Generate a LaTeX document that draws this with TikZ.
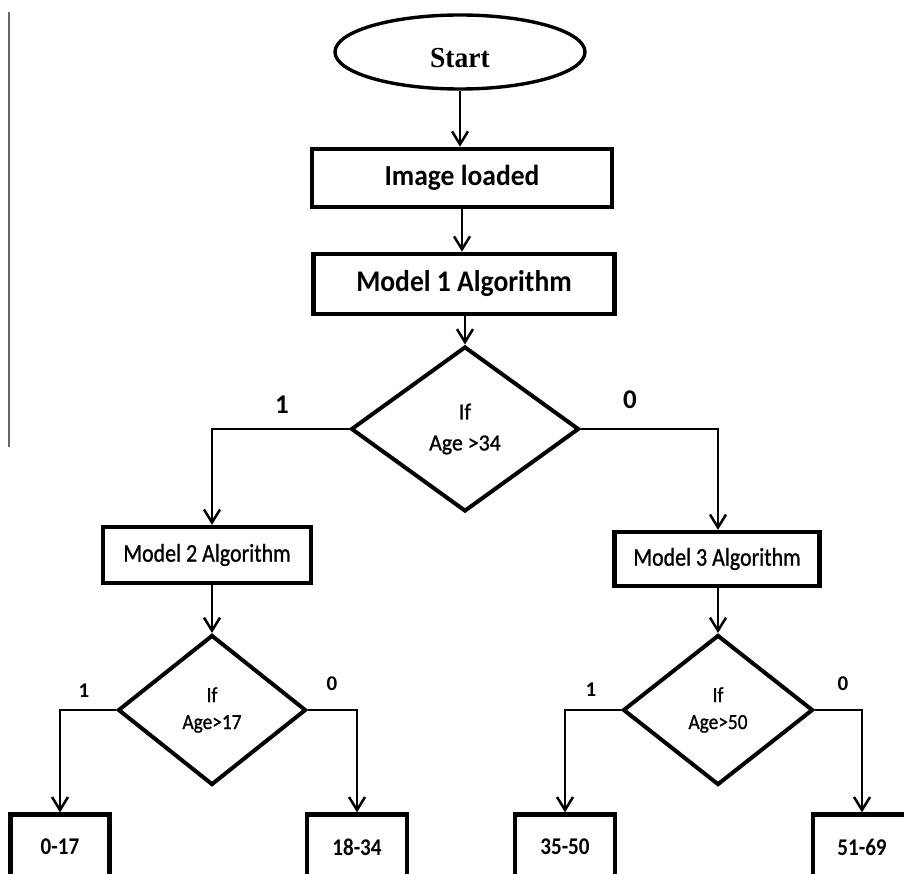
\documentclass[tikz,border=0pt]{standalone}
\usepackage{fontspec}
\setmainfont{Carlito}
\newfontfamily\timesfont{Liberation Serif}
\newfontfamily\medfont[FakeBold=1]{Carlito}
\usepackage{graphicx}
\usetikzlibrary{shapes.geometric,arrows.meta,calc}
\newcommand{\sqz}[2]{\scalebox{#1}[1]{#2}}
\begin{document}
\begin{tikzpicture}[x=1pt,y=-1pt,
  conn/.style={line width=2.5pt,-{Straight Barb[length=13pt,width=16pt]}},
  boxnode/.style={draw,rectangle,line width=4.6pt,inner sep=0pt},
  decision/.style={draw,diamond,line width=4pt,inner sep=0pt,align=center},
  bigtxt/.style={font=\fontsize{29}{31}\selectfont\bfseries},
  midtxt/.style={font=\fontsize{25.5}{27}\selectfont\medfont},
  smalltxt/.style={font=\fontsize{24}{25}\selectfont\bfseries},
  lab/.style={font=\fontsize{27}{29}\selectfont\bfseries},
  slab/.style={font=\fontsize{21}{23}\selectfont\bfseries}]
\useasboundingbox (0,0) rectangle (904,874);
\fill[white] (0,0) rectangle (904,874);
\clip (0,0) rectangle (904,874);

% left margin rule
\coordinate (rtop) at (9,12);
\coordinate (rbot) at (9,447);
\draw[line width=1.5pt,black!60] (rtop) -- (rbot);

% nodes
\node[draw,ellipse,line width=3.4pt,minimum width=250pt,minimum height=74pt,inner sep=0pt,
  label={[font=\fontsize{29}{30}\selectfont\timesfont\bfseries,yshift=-6pt]center:\sqz{0.95}{Start}}] (start) at (460,52) {};
\node[boxnode,minimum width=300pt,minimum height=58pt,bigtxt] (img) at (462,178) {\sqz{0.95}{Image loaded}};
\node[boxnode,minimum width=301pt,minimum height=60pt,font=\fontsize{30}{32}\selectfont\bfseries] (m1) at (464,284) {\sqz{0.92}{Model 1 Algorithm}};
\node[decision,minimum width=228pt,minimum height=165pt,font=\fontsize{23}{31}\selectfont\medfont] (d1) at (465,429) {\sqz{0.95}{If}\\\sqz{0.95}{Age >34}};

\node[boxnode,line width=4.2pt,minimum width=208pt,minimum height=56pt,midtxt] (m2) at (207,555) {\sqz{0.86}{Model 2 Algorithm}};
\node[boxnode,line width=4.2pt,minimum width=205pt,minimum height=54pt,midtxt] (m3) at (717,559) {\sqz{0.86}{Model 3 Algorithm}};

\node[decision,minimum width=188pt,minimum height=150pt,font=\fontsize{21.5}{27}\selectfont\medfont] (d2) at (212,710) {\sqz{0.9}{If}\\\sqz{0.9}{Age>17}};
\node[decision,minimum width=190pt,minimum height=150pt,font=\fontsize{21.5}{27}\selectfont\medfont] (d3) at (718,710) {\sqz{0.9}{If}\\\sqz{0.9}{Age>50}};

\node[boxnode,line width=4.2pt,minimum width=99pt,minimum height=65pt,smalltxt] (b1) at (60,847) {\sqz{0.88}{0-17}};
\node[boxnode,line width=4.2pt,minimum width=100pt,minimum height=65pt,smalltxt] (b2) at (357,847) {\sqz{0.88}{18-34}};
\node[boxnode,line width=4.2pt,minimum width=100pt,minimum height=65pt,smalltxt] (b3) at (565,847) {\sqz{0.88}{35-50}};
\node[boxnode,line width=4.2pt,minimum width=98pt,minimum height=65pt,smalltxt] (b4) at (862,847) {\sqz{0.88}{51-69}};

% labels
\node[lab] (l1) at (282,405) {1};
\node[lab] (l0) at (630,400) {0};
\node[slab] (l21) at (84,691) {1};
\node[slab] (l20) at (332,684) {0};
\node[slab] (l31) at (591,690) {1};
\node[slab] (l30) at (843,684) {0};

% connectors
\draw[conn] (start.south) -- (start.south |- img.north);
\draw[conn] (img.south) -- (img.south |- m1.north);
\draw[conn] (m1.south -| d1.north) -- (d1.north);
\draw[conn] (d1.west) -| (d2.north |- m2.north);
\draw[conn] (d1.east) -| (d3.north |- m3.north);
\draw[conn] (d2.north |- m2.south) -- (d2.north);
\draw[conn] (d3.north |- m3.south) -- (d3.north);
\draw[conn] (d2.west) -| (b1.north);
\draw[conn] (d2.east) -| (b2.north);
\draw[conn] (d3.west) -| (b3.north);
\draw[conn] (d3.east) -| (b4.north);
\end{tikzpicture}
\end{document}
